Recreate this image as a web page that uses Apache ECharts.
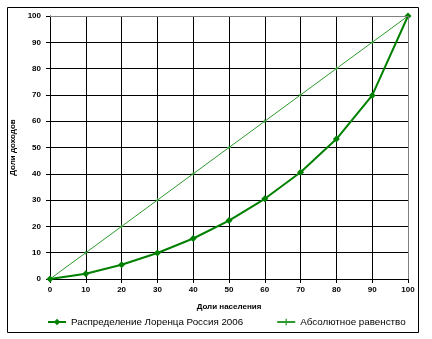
<!DOCTYPE html>
<html><head><meta charset="utf-8">
<script src="https://cdn.jsdelivr.net/npm/echarts@6/dist/echarts.min.js"></script>
<style>html,body{margin:0;padding:0;background:#fff}#c{width:432px;height:339px}</style>
</head><body><div id="c"></div>
<script>
var populationShare = [0, 10, 20, 30, 40, 50, 60, 70, 80, 90, 100];
var lorenzRussia2006 = [0, 2, 5.4, 9.9, 15.4, 22.2, 30.5, 40.6, 53.2, 69.8, 100];
var equality = [0, 10, 20, 30, 40, 50, 60, 70, 80, 90, 100];
var seriesNames = ['Распределение Лоренца Россия 2006', 'Абсолютное равенство'];
var xTitle = 'Доли населения';
var yTitle = 'Доли доходов';

function pairs(xs, ys) { return xs.map(function (x, i) { return [x, ys[i]]; }); }

var chart = echarts.init(document.getElementById('c'), null, {renderer: 'canvas'});
var font = 'Liberation Sans, Arial, sans-serif';
var axisCommon = {
  type: 'value', min: 0, max: 100, interval: 10,
  axisLine: {show: true, onZero: false, lineStyle: {color: '#000', width: 1}},
  axisTick: {show: true, length: 4, lineStyle: {color: '#000'}},
  splitLine: {show: true, lineStyle: {color: '#000', width: 1}},
  axisLabel: {color: '#000', fontSize: 8, fontWeight: 'bold', fontFamily: font},
  nameTextStyle: {color: '#000', fontSize: 8, fontWeight: 'bold', fontFamily: font}
};
chart.setOption({
  animation: false,
  backgroundColor: '#fff',
  graphic: [
    {type: 'rect', shape: {x: 7.5, y: 7.5, width: 411, height: 325}, style: {fill: 'none', stroke: '#000', lineWidth: 1}, z: -1},
    {type: 'polyline', shape: {points: [[50, 16.5], [408.5, 16.5], [408.5, 279]]}, style: {fill: 'none', stroke: '#808080', lineWidth: 1}, z: 10}
  ],
  grid: {left: 50, right: 24, top: 16, bottom: 60, containLabel: false},
  legend: {
    bottom: 7, left: 42, itemGap: 33, itemWidth: 18, itemHeight: 8,
    textStyle: {color: '#000', fontSize: 9.8, fontFamily: font},
    data: seriesNames
  },
  xAxis: Object.assign({}, axisCommon, {
    name: xTitle, nameLocation: 'middle', nameGap: 24,
    axisLabel: Object.assign({}, axisCommon.axisLabel, {margin: 7})
  }),
  yAxis: Object.assign({}, axisCommon, {
    name: yTitle, nameLocation: 'middle', nameGap: 33,
    axisLabel: Object.assign({}, axisCommon.axisLabel, {margin: 9})
  }),
  series: [
    {
      name: seriesNames[0], type: 'line', data: pairs(populationShare, lorenzRussia2006),
      symbol: 'diamond', symbolSize: 7, showAllSymbol: true,
      lineStyle: {color: '#008000', width: 2}, itemStyle: {color: '#008000'}, z: 5
    },
    {
      name: seriesNames[1], type: 'line', data: pairs(populationShare, equality),
      symbol: 'path://M2,0 L3,0 L3,2 L5,2 L5,3 L3,3 L3,5 L2,5 L2,3 L0,3 L0,2 L2,2 Z', symbolSize: 4, showAllSymbol: true,
      lineStyle: {color: '#2e9a2e', width: 1}, itemStyle: {color: '#2e9a2e'}, z: 4
    }
  ]
});
</script></body></html>
